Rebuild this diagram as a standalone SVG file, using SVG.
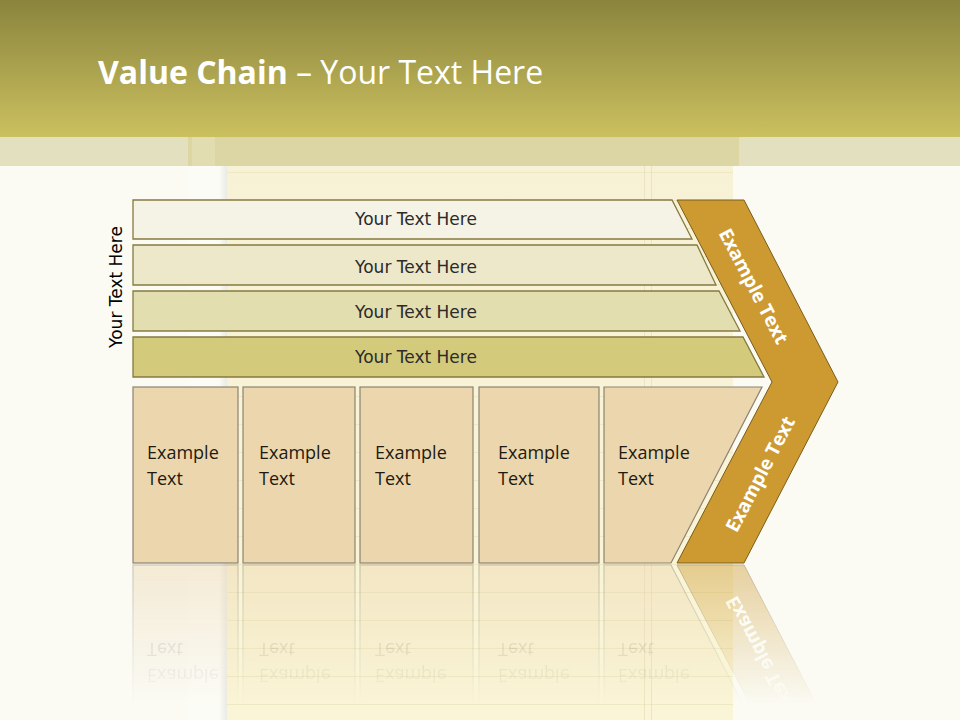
<svg xmlns="http://www.w3.org/2000/svg" width="960" height="720" viewBox="0 0 960 720">
  <defs>
    <linearGradient id="hdr" x1="0" y1="0" x2="0" y2="1">
      <stop offset="0" stop-color="#8a843d"/>
      <stop offset="1" stop-color="#cbc05f"/>
    </linearGradient>
    <linearGradient id="paper" x1="0" y1="0" x2="0" y2="1">
      <stop offset="0" stop-color="#f7f2d6"/>
      <stop offset="1" stop-color="#faf5d6"/>
    </linearGradient>
    <linearGradient id="shadowL" x1="0" y1="0" x2="1" y2="0">
      <stop offset="0" stop-color="#000" stop-opacity="0"/>
      <stop offset="1" stop-color="#000" stop-opacity="0.07"/>
    </linearGradient>
    <linearGradient id="fade" gradientUnits="userSpaceOnUse" x1="0" y1="564" x2="0" y2="705">
      <stop offset="0" stop-color="#fff" stop-opacity="0.8"/>
      <stop offset="1" stop-color="#fff" stop-opacity="0"/>
    </linearGradient>
    <mask id="reflMask" maskUnits="userSpaceOnUse" x="0" y="564" width="960" height="156">
      <rect x="0" y="564" width="960" height="156" fill="url(#fade)"/>
    </mask>
    <pattern id="lines" patternUnits="userSpaceOnUse" x="0" y="4" width="10" height="28">
      <rect x="0" y="0" width="10" height="1" fill="#d8cf9c" opacity="0.3"/>
    </pattern>
  </defs>
  <style>
    .bar { stroke: #857a40; stroke-width: 1.3; }
    .box { fill: #ecd6ad; stroke: #8c8372; stroke-width: 1.2; }
    .chev { fill: #cd9a32; stroke: #7a5c1c; stroke-width: 1; }
    .barTxt { font-family: "DejaVu Sans", Verdana, sans-serif; font-size: 17px; fill: #2b2b2b; text-anchor: middle; }
    .boxTxt { font-family: "Open Sans", Calibri, sans-serif; font-size: 18px; fill: #1e1a10; }
    .chevTxt { font-family: "Open Sans", Calibri, sans-serif; font-size: 19px; font-weight: bold; fill: #ffffff; text-anchor: middle; }
  </style>

  <!-- background -->
  <rect x="0" y="0" width="960" height="720" fill="#fbfbf4"/>
  <rect x="188" y="137" width="39" height="583" fill="#fcfcf6"/>
  <rect x="227" y="137" width="506" height="583" fill="url(#paper)"/>
  <rect x="227" y="166" width="506" height="554" fill="url(#lines)"/>
  <rect x="644" y="166" width="1" height="554" fill="#e4dbb0" opacity="0.6"/>
  <rect x="651" y="166" width="1" height="554" fill="#e4dbb0" opacity="0.6"/>
  <rect x="219" y="137" width="8" height="583" fill="url(#shadowL)"/>

  <!-- header -->
  <rect x="0" y="0" width="960" height="137" fill="url(#hdr)"/>
  <rect x="0" y="137" width="960" height="29" fill="#e3e0c0"/>
  <rect x="188" y="137" width="551" height="29" fill="#dcd6a5"/>
  <rect x="192" y="137" width="23" height="29" fill="#e2ddb0"/>
  <text x="98" y="84" font-family="'Open Sans', Calibri, sans-serif" font-size="32" fill="#ffffff"><tspan font-weight="bold">Value Chain</tspan> – Your Text Here</text>

  <!-- reflection -->
  <g id="reflection" mask="url(#reflMask)">
    <g transform="matrix(1,0,0,-1,0,1128)" opacity="0.55">
      <rect class="box" x="133" y="387" width="105" height="176"/>
      <rect class="box" x="243" y="387" width="112" height="176"/>
      <rect class="box" x="360" y="387" width="113" height="176"/>
      <rect class="box" x="479" y="387" width="120" height="176"/>
      <polygon class="box" points="604,387 762,387 671,563 604,563"/>
      <polygon class="chev" points="677,200 744,200 838,382 744,563 677,563 772,382"/>
      <g opacity="0.6">
        <text class="boxTxt" x="147" y="459">Example</text><text class="boxTxt" x="147" y="485">Text</text>
        <text class="boxTxt" x="259" y="459">Example</text><text class="boxTxt" x="259" y="485">Text</text>
        <text class="boxTxt" x="375" y="459">Example</text><text class="boxTxt" x="375" y="485">Text</text>
        <text class="boxTxt" x="498" y="459">Example</text><text class="boxTxt" x="498" y="485">Text</text>
        <text class="boxTxt" x="618" y="459">Example</text><text class="boxTxt" x="618" y="485">Text</text>
      </g>
      <text class="chevTxt" transform="translate(760,474) rotate(-62.4)" y="7">Example Text</text>
    </g>
  </g>

  <!-- side label -->
  <g id="side-label">
    <text class="barTxt" style="fill:#000" transform="translate(122,287) rotate(-90)">Your Text Here</text>
  </g>

  <!-- bars -->
  <g id="bar1">
    <polygon class="bar" fill="#f5f3e5" points="133,200 672,200 692,239 133,239"/>
    <text class="barTxt" x="416" y="225">Your Text Here</text>
  </g>
  <g id="bar2">
    <polygon class="bar" fill="#ece8c9" points="133,245 697,245 716,285 133,285"/>
    <text class="barTxt" x="416" y="273">Your Text Here</text>
  </g>
  <g id="bar3">
    <polygon class="bar" fill="#e3deaf" points="133,291 719,291 740,331 133,331"/>
    <text class="barTxt" x="416" y="318">Your Text Here</text>
  </g>
  <g id="bar4">
    <polygon class="bar" fill="#d3cb7b" points="133,337 743,337 764,377 133,377"/>
    <text class="barTxt" x="416" y="363">Your Text Here</text>
  </g>

  <!-- boxes -->
  <g id="box1">
    <rect class="box" x="133" y="387" width="105" height="176"/>
    <text class="boxTxt" x="147" y="459">Example</text><text class="boxTxt" x="147" y="485">Text</text>
  </g>
  <g id="box2">
    <rect class="box" x="243" y="387" width="112" height="176"/>
    <text class="boxTxt" x="259" y="459">Example</text><text class="boxTxt" x="259" y="485">Text</text>
  </g>
  <g id="box3">
    <rect class="box" x="360" y="387" width="113" height="176"/>
    <text class="boxTxt" x="375" y="459">Example</text><text class="boxTxt" x="375" y="485">Text</text>
  </g>
  <g id="box4">
    <rect class="box" x="479" y="387" width="120" height="176"/>
    <text class="boxTxt" x="498" y="459">Example</text><text class="boxTxt" x="498" y="485">Text</text>
  </g>
  <g id="box5">
    <polygon class="box" points="604,387 762,387 671,563 604,563"/>
    <text class="boxTxt" x="618" y="459">Example</text><text class="boxTxt" x="618" y="485">Text</text>
  </g>

  <!-- chevron -->
  <g id="chevron">
    <polygon class="chev" points="677,200 744,200 838,382 744,563 677,563 772,382"/>
    <text class="chevTxt" transform="translate(754,286) rotate(62.4)" y="7">Example Text</text>
    <text class="chevTxt" transform="translate(760,474) rotate(-62.4)" y="7">Example Text</text>
  </g>

  <g id="connectors"/>
</svg>
